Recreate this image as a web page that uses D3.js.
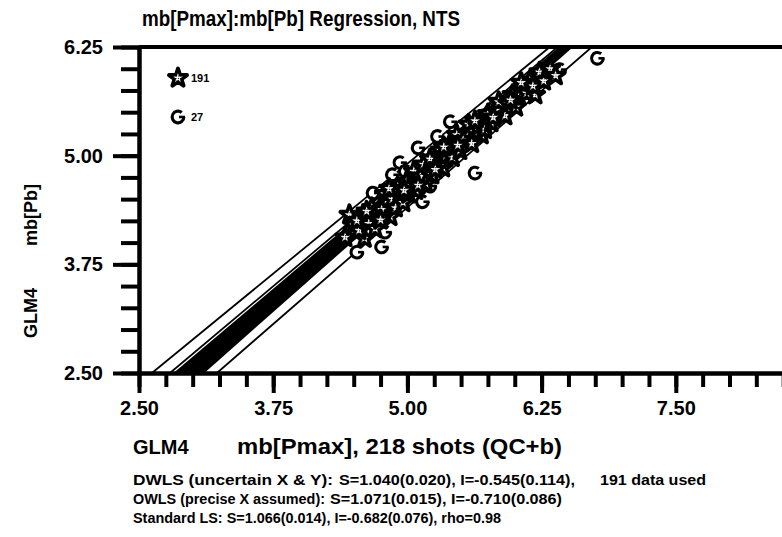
<!DOCTYPE html>
<html>
<head>
<meta charset="utf-8">
<script src="https://cdn.jsdelivr.net/npm/d3@7"></script>
<style>
  body { margin: 0; background: #fff; }
  text { font-family: "Liberation Sans", Arial, Helvetica, sans-serif; font-weight: bold; fill: #000; }
</style>
</head>
<body>
<script>
// tick values
const xMajor = [2.5, 3.75, 5, 6.25, 7.5]
const yMajor = [2.5, 3.75, 5, 6.25]

// used points (stars), [mb Pmax, mb Pb]
const starPts = [
  [6.23,5.96],[6.08,5.78],[6.19,5.70],[5.88,5.55],[5.70,5.41],[5.55,5.26],[5.69,5.24],[5.44,5.15],
  [5.26,4.97],[5.19,4.81],[5.09,4.72],[4.93,4.57],[4.81,4.49],[4.73,4.28],[4.46,4.32],[4.42,4.06],[4.60,4.05],
  [4.50,4.20],[4.55,4.14],[4.58,4.30],[4.64,4.22],[4.67,4.40],[4.70,4.16],[4.76,4.38],[4.79,4.56],[4.84,4.30],
  [4.86,4.50],[4.89,4.40],[4.91,4.64],[4.96,4.46],[4.99,4.70],[5.01,4.56],[5.04,4.66],[5.06,4.82],[5.08,4.60],
  [5.12,4.76],[5.15,4.90],[5.17,4.68],[5.21,4.96],[5.23,4.78],[5.28,4.88],[5.31,5.06],[5.33,4.86],[5.36,5.00],
  [5.39,5.12],[5.42,4.98],[5.46,5.24],[5.49,5.06],[5.52,5.18],[5.57,5.36],[5.60,5.14],[5.62,5.28],[5.66,5.34],
  [5.72,5.30],[5.75,5.48],[5.78,5.38],[5.82,5.52],[5.85,5.62],[5.91,5.46],[5.94,5.60],[5.98,5.70],[6.01,5.56],
  [6.04,5.68],[6.11,5.72],[6.14,5.86],[6.17,5.80],[6.27,5.86],[6.33,6.00],[6.38,5.92],[4.53,4.25],[4.62,4.36],
  [4.75,4.26],[4.83,4.62],[4.97,4.60],[5.10,4.66],[5.26,4.84],[5.34,5.10],[5.47,5.12],[5.63,5.40],[5.80,5.44],
  [5.96,5.64],[6.06,5.84]
]

// rejected points (circles)
const circlePts = [
  [6.77,6.12],[5.40,5.39],[5.10,5.09],[5.63,4.80],[4.86,4.78],[4.93,4.92],[5.14,4.47],[4.76,3.95],[4.53,3.89],
  [4.68,4.57],[4.79,4.12],[5.81,5.56],[6.05,5.73],[5.54,5.18],[5.27,4.84],[5.02,4.61],[4.60,4.32],[4.48,4.15],
  [5.66,5.41],[5.95,5.64],[4.88,4.43],[5.44,5.07],[4.82,4.32],[5.21,4.65],[6.42,5.99],[5.28,5.22],[4.98,4.82]
]

// fit band edges and bound lines (slope, intercept)
const bandEdges = [{s: 1.044, i: -0.445}, {s: 1.092, i: -0.895}]
const thinLines = [{s: 1.012, i: -0.152}, {s: 1.0385, i: -0.396}, {s: 1.074, i: -0.965}]

const legendItems = [{type: 'star', label: '191'}, {type: 'circle', label: '27'}]

const titleText = 'mb[Pmax]:mb[Pb] Regression, NTS'
const statLines = [
  ['DWLS (uncertain X & Y):', 'S=1.040(0.020), I=-0.545(0.114),', '191 data used'],
  ['OWLS (precise X assumed):', 'S=1.071(0.015), I=-0.710(0.086)'],
  ['Standard LS: S=1.066(0.014), I=-0.682(0.076), rho=0.98']
]

const width = 782, height = 537
const svg = d3.select('body').append('svg')
  .attr('width', width)
  .attr('height', height)

const defs = svg.append('defs')
const pat = defs.append('pattern')
  .attr('id', 'dots')
  .attr('width', 2.4).attr('height', 2.4)
  .attr('patternUnits', 'userSpaceOnUse')
pat.append('rect').attr('width', 2.4).attr('height', 2.4).attr('fill', '#fff')
pat.append('rect').attr('width', 1).attr('height', 1).attr('fill', '#000')
defs.append('clipPath').attr('id', 'plot')
  .append('rect').attr('x', 139).attr('y', 47).attr('width', 700).attr('height', 326)

const x = d3.scaleLinear().domain([2.5, 8.75]).range([139, 810])
const y = d3.scaleLinear().domain([2.5, 6.25]).range([373, 47])

// lines
const plot = svg.append('g').attr('clip-path', 'url(#plot)')
const xAt = (l, v) => (v - l.i) / l.s
const band = [
  [xAt(bandEdges[0], 2.5), 2.5], [xAt(bandEdges[0], 6.25), 6.25],
  [xAt(bandEdges[1], 6.25), 6.25], [xAt(bandEdges[1], 2.5), 2.5]
]
plot.append('path')
  .attr('d', d3.line().x(d => x(d[0])).y(d => y(d[1]))(band) + 'Z')
  .attr('fill', '#000')
plot.selectAll('line.thin')
  .data(thinLines)
  .enter()
  .append('line')
  .attr('class', 'thin')
  .attr('x1', d => x(xAt(d, 2.5)))
  .attr('y1', y(2.5))
  .attr('x2', d => x(xAt(d, 6.25)))
  .attr('y2', y(6.25))
  .attr('stroke', '#000')
  .attr('stroke-width', 1.8)

// markers
const starOuter = d3.symbol().type(d3.symbolStar).size(100)
const starInner = d3.symbol().type(d3.symbolStar).size(30)
const ring = d3.arc().innerRadius(4.3).outerRadius(7.4)
  .startAngle(0.5 * Math.PI).endAngle(2.22 * Math.PI)

function drawCircle(g) {
  g.append('circle').attr('r', 5).attr('fill', '#fff')
  g.append('path').attr('d', ring()).attr('fill', '#000')
  g.append('rect').attr('x', 1).attr('y', -1.3).attr('width', 6).attr('height', 2.6).attr('fill', '#000')
}
function drawStar(g) {
  g.append('path').attr('d', starOuter()).attr('fill', '#000')
    .attr('stroke', '#000').attr('stroke-width', 4).attr('stroke-linejoin', 'round')
  g.append('path').attr('d', starInner()).attr('fill', 'url(#dots)')
}

svg.selectAll('g.circ')
  .data(circlePts)
  .enter()
  .append('g')
  .attr('class', 'circ')
  .attr('transform', d => `translate(${x(d[0])},${y(d[1])})`)
  .each(function() { drawCircle(d3.select(this)) })

svg.selectAll('g.star')
  .data(starPts)
  .enter()
  .append('g')
  .attr('class', 'star')
  .attr('transform', d => `translate(${x(d[0])},${y(d[1])})`)
  .each(function() { drawStar(d3.select(this)) })

// legend
const leg = svg.selectAll('g.leg')
  .data(legendItems)
  .enter()
  .append('g')
  .attr('class', 'leg')
  .attr('transform', (d, i) => `translate(178,${78 + i * 39})`)
leg.each(function(d) {
  if (d.type === 'star') drawStar(d3.select(this))
  else drawCircle(d3.select(this))
})
leg.append('text')
  .attr('x', 13)
  .attr('y', 4)
  .attr('font-size', 11)
  .text(d => d.label)

// axes
function styleAxis(g) {
  g.select('.domain').attr('stroke-width', 4)
  g.selectAll('.tick line').attr('stroke-width', 4)
}
const xMinor = d3.range(2.5, 8.76, 0.25)
const yMinor = d3.range(2.5, 6.26, 0.25)

svg.append('g')
  .attr('transform', 'translate(0,373)')
  .call(d3.axisBottom(x).tickValues(xMinor).tickSize(14).tickSizeOuter(0).tickFormat(''))
  .call(styleAxis)
svg.append('g')
  .attr('transform', 'translate(0,373)')
  .call(d3.axisBottom(x).tickValues(xMajor).tickSize(20).tickSizeOuter(0).tickPadding(8).tickFormat(d3.format('.2f')))
  .call(styleAxis)
  .call(g => g.selectAll('text').attr('font-size', 20).attr('font-family', null))

svg.append('g')
  .attr('transform', 'translate(139,0)')
  .call(d3.axisLeft(y).tickValues(yMinor).tickSize(18).tickSizeOuter(0).tickFormat(''))
  .call(styleAxis)
svg.append('g')
  .attr('transform', 'translate(139,0)')
  .call(d3.axisLeft(y).tickValues(yMajor).tickSize(26).tickSizeOuter(0).tickPadding(10).tickFormat(d3.format('.2f')))
  .call(styleAxis)
  .call(g => g.selectAll('text').attr('font-size', 20).attr('font-family', null))

// top frame
svg.append('line')
  .attr('x1', 139).attr('x2', 810)
  .attr('y1', y(6.25)).attr('y2', y(6.25))
  .attr('stroke', '#000').attr('stroke-width', 4)

// texts
svg.append('text')
  .attr('x', 142).attr('y', 26)
  .attr('font-size', 22)
  .attr('textLength', 318)
  .attr('lengthAdjust', 'spacingAndGlyphs')
  .text(titleText)

svg.append('text').attr('x', 133).attr('y', 454).attr('font-size', 20).text('GLM4')
svg.append('text').attr('x', 237).attr('y', 454).attr('font-size', 22)
  .attr('textLength', 325).attr('lengthAdjust', 'spacingAndGlyphs')
  .text('mb[Pmax], 218 shots (QC+b)')

svg.append('text')
  .attr('transform', 'translate(37,313) rotate(-90)')
  .attr('text-anchor', 'middle').attr('font-size', 18).text('GLM4')
svg.append('text')
  .attr('transform', 'translate(37,215) rotate(-90)')
  .attr('text-anchor', 'middle').attr('font-size', 18).text('mb[Pb]')

// stat lines, each part placed at its start and stretched to its width
const statLayout = [
  [[133, 200], [339, 236], [600, 106]],
  [[133, 192], [330, 232]],
  [[133, 368]]
]
statLines.forEach((parts, li) => {
  parts.forEach((p, pi) => {
    svg.append('text')
      .attr('x', statLayout[li][pi][0])
      .attr('y', 485 + li * 19)
      .attr('font-size', 14)
      .attr('textLength', statLayout[li][pi][1])
      .attr('lengthAdjust', 'spacingAndGlyphs')
      .text(p)
  })
})
</script>
</body>
</html>
